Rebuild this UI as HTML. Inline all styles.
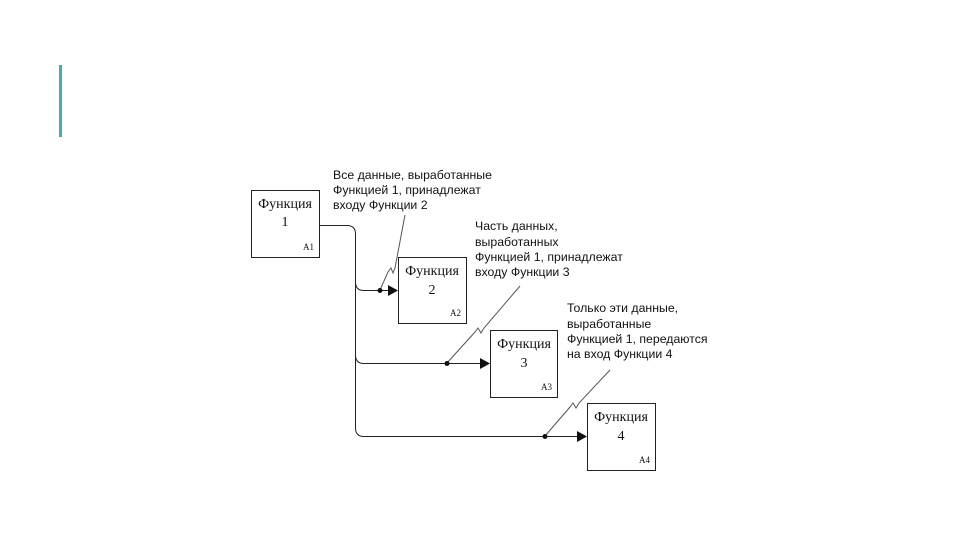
<!DOCTYPE html>
<html><head><meta charset="utf-8"><style>
html,body{margin:0;padding:0;background:#fff;width:960px;height:540px;overflow:hidden}
svg{display:block}
.l{font-family:"Liberation Sans",sans-serif;font-size:12.3px;fill:#111}
.s{font-family:"Liberation Serif",serif;fill:#111}
</style></head><body>
<svg width="960" height="540" viewBox="0 0 960 540">
<rect x="59" y="65" width="3" height="72" fill="#4aa9a9"/>
<g fill="none" stroke="#222" stroke-width="1">
<rect x="251.5" y="190.5" width="68" height="67"/>
<rect x="398.5" y="257.5" width="68" height="66"/>
<rect x="490.5" y="330.5" width="67" height="67"/>
<rect x="587.5" y="403.5" width="68" height="67"/>
<path d="M319 225.5 H347 Q355.5 225.5 355.5 234 V428 Q355.5 436.5 364 436.5 H580"/>
<path d="M355.5 282 Q355.5 290.5 364 290.5 H390"/>
<path d="M355.5 355 Q355.5 363.5 364 363.5 H482"/>
<path d="M380 290 L388 272 L391 268 L393 273 L395 268 L405 215" stroke="#555"/>
<path d="M447 363 L475 332 L478 328 L481 333 L484 328 L520 286" stroke="#555"/>
<path d="M545 436 L570 407 L573 403 L576 408 L579 403 L610 370" stroke="#555"/>
</g>
<g fill="#111">
<circle cx="380" cy="290.5" r="2.5"/>
<circle cx="447" cy="363.5" r="2.5"/>
<circle cx="545" cy="436.5" r="2.5"/>
<path d="M388 285 L398 290.5 L388 296 Z"/>
<path d="M480 358 L490 363.5 L480 369 Z"/>
<path d="M577 431 L587 436.5 L577 442 Z"/>
</g>
<g class="s" text-anchor="middle" font-size="14">
<text x="285" y="208">Функция</text><text x="285" y="226">1</text>
<text x="432" y="275">Функция</text><text x="432" y="294">2</text>
<text x="524" y="348">Функция</text><text x="524" y="367">3</text>
<text x="621" y="421">Функция</text><text x="621" y="440">4</text>
</g>
<g class="s" font-size="9">
<text x="303" y="250">A1</text><text x="450" y="316">A2</text>
<text x="541" y="390">A3</text><text x="639" y="463">A4</text>
</g>
<g class="l">
<text x="333" y="179">Все данные, выработанные</text>
<text x="333" y="194">Функцией 1, принадлежат</text>
<text x="333" y="209">входу Функции 2</text>
<text x="475" y="230">Часть данных,</text>
<text x="475" y="246">выработанных</text>
<text x="475" y="261">Функцией 1, принадлежат</text>
<text x="475" y="276">входу Функции 3</text>
<text x="567" y="312">Только эти данные,</text>
<text x="567" y="328">выработанные</text>
<text x="567" y="343">Функцией 1, передаются</text>
<text x="567" y="358">на вход Функции 4</text>
</g>
</svg>
</body></html>
